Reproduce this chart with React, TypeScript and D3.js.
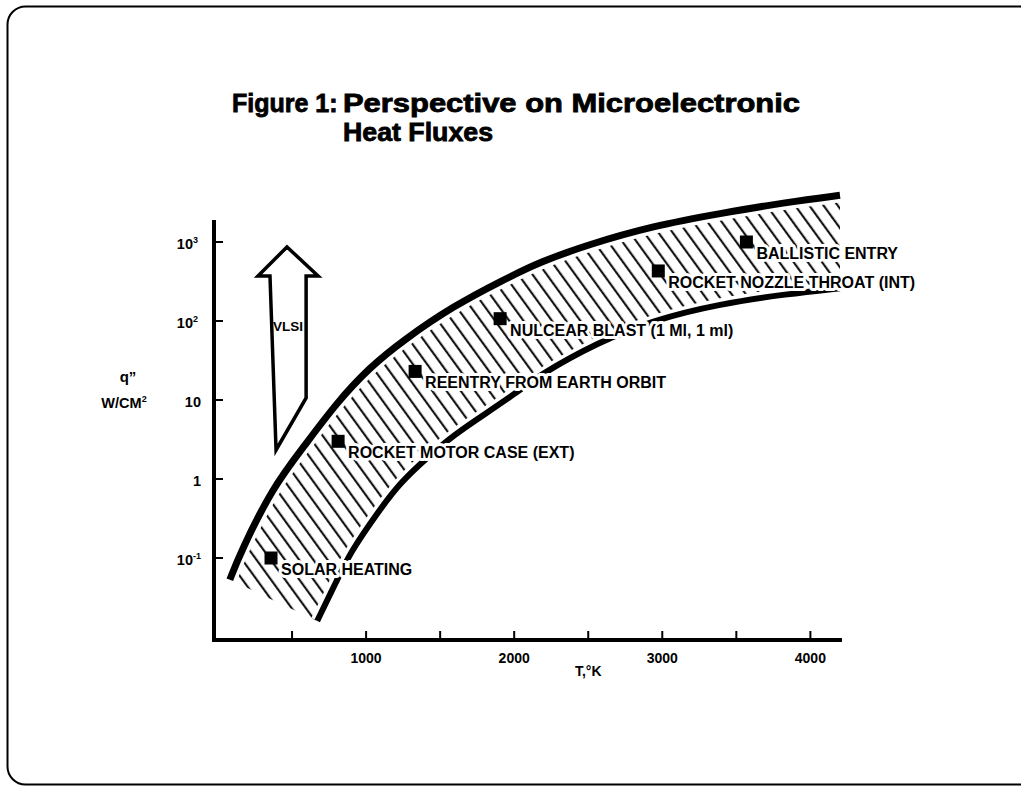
import React from 'react'
import * as d3 from 'd3'

// upper and lower bounds of the heat-flux band (T in K, q in W/cm2)
const upperT = [80, 150, 370, 575, 800, 1025, 1250, 1590, 1925, 2175, 2495, 2940, 3390, 3845, 4200]
const upperQ = [0.053, 0.116, 0.79, 2.5, 9.2, 26, 57, 155, 330, 560, 920, 1600, 2300, 3200, 3900]
const lowerT = [670, 805, 890, 1075, 1230, 1410, 1590, 1820, 1995, 2175, 2560, 2940, 3390, 3845, 4200]
const lowerQ = [0.016, 0.053, 0.115, 0.37, 0.9, 1.85, 3.6, 7, 11.6, 21, 53, 103, 165, 220, 260]

// labelled applications
const pointNames = [
  'SOLAR HEATING',
  'ROCKET MOTOR CASE (EXT)',
  'REENTRY FROM EARTH ORBIT',
  'NULCEAR BLAST (1 Ml, 1 ml)',
  'ROCKET NOZZLE THROAT (INT)',
  'BALLISTIC ENTRY',
]
const pointT = [358, 811, 1331, 1905, 2973, 3568]
const pointQ = [0.1, 3, 23, 107, 430, 1000]

// VLSI arrow outline
const arrowT = [466, 676, 595, 595, 392, 351, 270]
const arrowQ = [865, 372, 372, 10.6, 2.33, 372, 372]

const xTicks = [500, 1000, 1500, 2000, 2500, 3000, 3500, 4000]
const xTickLabels = ['', '1000', '', '2000', '', '3000', '', '4000']
const yTicks = [0.1, 1, 10, 100, 1000]
const yTickBase = ['10', '1', '10', '10', '10']
const yTickSup = ['-1', '', '', '2', '3']

const font = '"Liberation Sans", Arial, Helvetica, sans-serif'

export default function App() {
  const x = d3.scaleLinear().domain([0, 4200]).range([218, 840])
  const y = d3.scaleLog().domain([0.1, 1000]).range([558, 242])

  const plotLeft = 214
  const plotRight = 842
  const plotTop = 220
  const plotBottom = 640

  const upper = upperT.map((t, i) => [x(t), y(upperQ[i])] as [number, number])
  const lower = lowerT.map((t, i) => [x(t), y(lowerQ[i])] as [number, number])
  const line = d3.line().curve(d3.curveBasis)
  const upperPath = line(upper) || ''
  const lowerPath = line(lower) || ''
  // band outline: upper curve, then lower curve back
  const bandPath = upperPath + 'L' + (line([...lower].reverse()) || '').slice(1) + 'Z'

  const arrowPts = arrowT.map((t, i) => `${x(t)},${y(arrowQ[i])}`).join(' ')

  const halo = {
    stroke: '#fff',
    strokeWidth: 6,
    paintOrder: 'stroke' as const,
    strokeLinejoin: 'round' as const,
  }

  return (
    <svg width={1021} height={788} style={{ position: 'absolute', left: 0, top: 0 }} fontFamily={font}>
      <defs>
        <pattern id="hatch" patternUnits="userSpaceOnUse" width={11.5} height={10} patternTransform="rotate(-36)">
          <line x1={5} y1={0} x2={5} y2={10} stroke="#000" strokeWidth={2} />
        </pattern>
        <clipPath id="band">
          <path d={bandPath} />
        </clipPath>
      </defs>
      <rect x={0} y={0} width={1021} height={788} fill="#fff" />
      <rect x={7.5} y={6.5} width={1060} height={778} rx={18} fill="none" stroke="#000" strokeWidth={2} />

      <g fontWeight="bold" fontSize={25} fill="#000" stroke="#000" strokeWidth={0.8}>
        <text x={232} y={112}>Figure 1:</text>
        <text x={343} y={112} textLength={457} lengthAdjust="spacingAndGlyphs">Perspective on Microelectronic</text>
        <text x={343} y={141} textLength={150} lengthAdjust="spacingAndGlyphs">Heat Fluxes</text>
      </g>

      {/* hatched band */}
      <rect x={plotLeft} y={150} width={700} height={500} fill="url(#hatch)" clipPath="url(#band)" />
      <path d={upperPath} fill="none" stroke="#fff" strokeWidth={14} />
      <path d={lowerPath} fill="none" stroke="#fff" strokeWidth={13} />
      <path d={upperPath} fill="none" stroke="#000" strokeWidth={7} />
      <path d={lowerPath} fill="none" stroke="#000" strokeWidth={6} />

      {/* VLSI arrow */}
      <polygon points={arrowPts} fill="#fff" stroke="#000" strokeWidth={3.5} strokeLinejoin="miter" />
      <text x={288} y={331} textAnchor="middle" fontSize={13.5} fontWeight="bold">
        VLSI
      </text>

      {/* axes */}
      <line x1={plotLeft} y1={plotTop} x2={plotLeft} y2={plotBottom + 2} stroke="#000" strokeWidth={4} />
      <line x1={plotLeft - 2} y1={plotBottom} x2={plotRight} y2={plotBottom} stroke="#000" strokeWidth={4} />
      {xTicks.map((t, i) => (
        <g key={t}>
          <line x1={x(t)} x2={x(t)} y1={plotBottom} y2={plotBottom - 9} stroke="#000" strokeWidth={2} />
          <text x={x(t)} y={plotBottom + 23} textAnchor="middle" fontSize={14} fontWeight="bold">
            {xTickLabels[i]}
          </text>
        </g>
      ))}
      <text x={x(2500)} y={plotBottom + 36} textAnchor="middle" fontSize={14} fontWeight="bold">T,°K</text>
      {yTicks.map((q, i) => (
        <g key={q}>
          <line x1={plotLeft} x2={plotLeft + 9} y1={y(q)} y2={y(q)} stroke="#000" strokeWidth={2} />
          <text x={yTickSup[i] ? 193 : 201} y={y(q) + 7} textAnchor="end" fontSize={14.5} fontWeight="bold">
            {yTickBase[i]}
          </text>
          {yTickSup[i] && (
            <text x={193} y={y(q) + 1} fontSize={9} fontWeight="bold">
              {yTickSup[i]}
            </text>
          )}
        </g>
      ))}
      <text x={128} y={382} textAnchor="middle" fontSize={15} fontWeight="bold">q”</text>
      <text x={124} y={408} textAnchor="middle" fontSize={14.5} fontWeight="bold">
        W/CM<tspan fontSize={9} dy={-6}>2</tspan>
      </text>

      {/* labelled points */}
      {pointNames.map((name, i) => (
        <g key={name}>
          <rect x={x(pointT[i]) - 6.5} y={y(pointQ[i]) - 6.5} width={13} height={13} fill="#000" />
          <text x={x(pointT[i]) + 10} y={y(pointQ[i]) + 17} fontSize={16} fontWeight="bold" {...halo}>
            {name}
          </text>
        </g>
      ))}
    </svg>
  )
}
